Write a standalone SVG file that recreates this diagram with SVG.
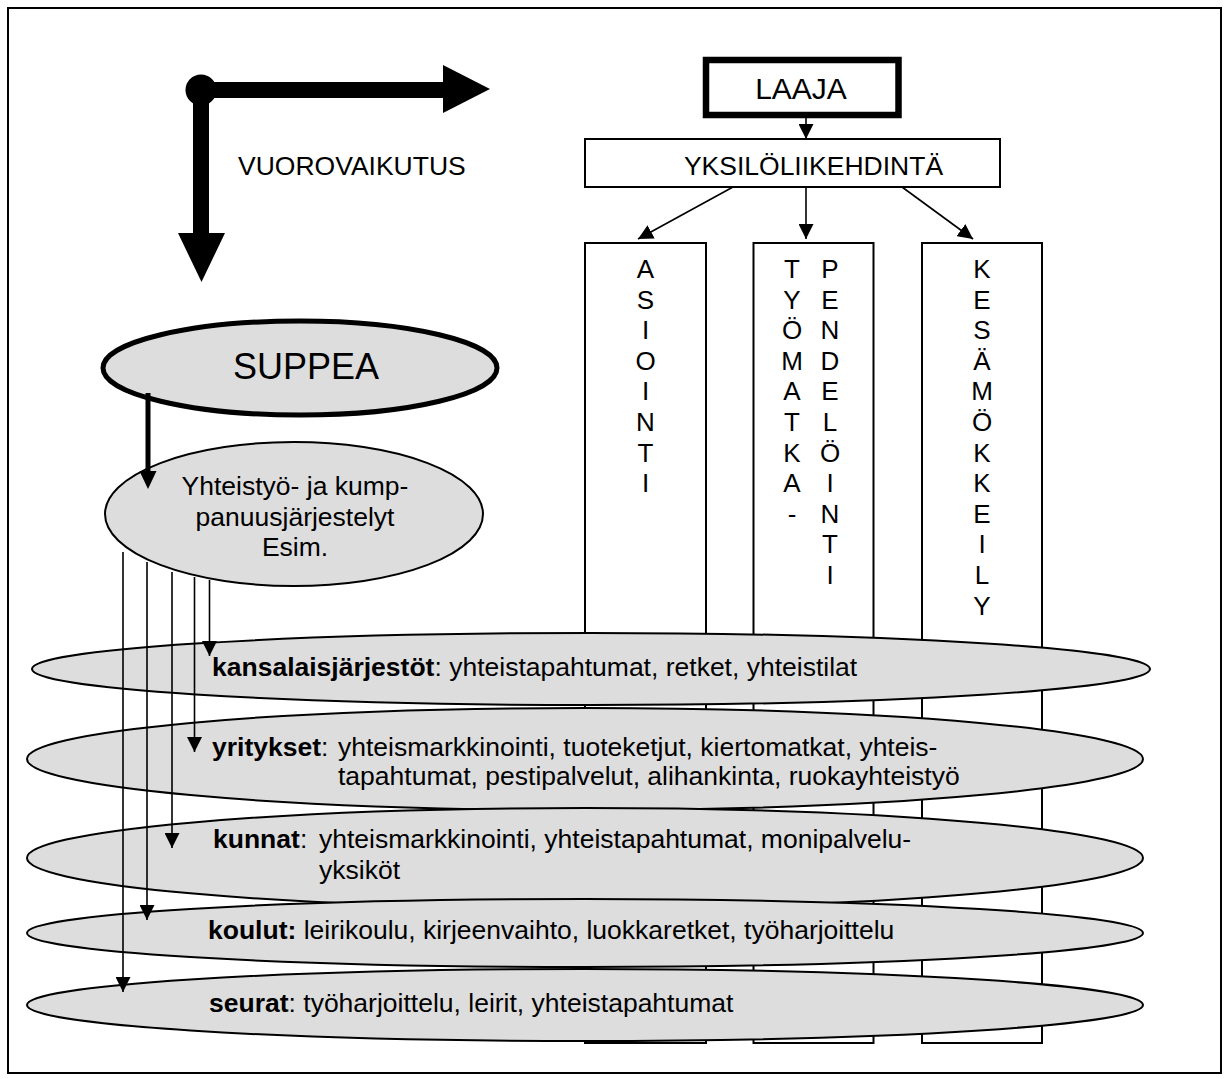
<svg xmlns="http://www.w3.org/2000/svg" width="1227" height="1079" viewBox="0 0 1227 1079">
<style>
text{font-family:"Liberation Sans",Arial,sans-serif;fill:#000}
.t26{font-size:26.5px}
.col{font-size:26px;text-anchor:middle}
.b{font-weight:bold}
.box{fill:#fff;stroke:#000;stroke-width:2}
.ell{fill:#dddddd;stroke:#000;stroke-width:2}
.thin{stroke:#000;stroke-width:1.6;fill:none}
</style>
<defs>
<marker id="ah" markerWidth="15" markerHeight="15" refX="15" refY="7.5" orient="auto" markerUnits="userSpaceOnUse">
<path d="M0,0 L15,7.5 L0,15 z" fill="#000"/>
</marker>
</defs>
<rect x="0" y="0" width="1227" height="1079" fill="#fff"/>
<rect id="frame" x="8" y="8" width="1213" height="1065" fill="none" stroke="#000" stroke-width="2"/>

<g id="vuorovaikutus">
<path d="M201,90 H445" stroke="#000" stroke-width="16" fill="none"/>
<polygon points="443,65 490,89 443,113" fill="#000"/>
<path d="M201,90 V235" stroke="#000" stroke-width="16" fill="none"/>
<polygon points="178,233 225,233 201.5,282" fill="#000"/>
<circle cx="201" cy="90" r="15.5" fill="#000"/>
<text class="t26" x="238" y="175">VUOROVAIKUTUS</text>
</g>

<g id="asiointi">
<rect class="box" x="585" y="243" width="121" height="800"/>
<text class="col" x="645.5" y="278">A</text>
<text class="col" x="645.5" y="308.6">S</text>
<text class="col" x="645.5" y="339.2">I</text>
<text class="col" x="645.5" y="369.8">O</text>
<text class="col" x="645.5" y="400.4">I</text>
<text class="col" x="645.5" y="431">N</text>
<text class="col" x="645.5" y="461.6">T</text>
<text class="col" x="645.5" y="492.2">I</text>
</g>

<g id="tyomatka">
<rect class="box" x="753.5" y="243" width="120" height="800"/>
<text class="col" x="792" y="278">T</text>
<text class="col" x="792" y="308.6">Y</text>
<text class="col" x="792" y="339.2">Ö</text>
<text class="col" x="792" y="369.8">M</text>
<text class="col" x="792" y="400.4">A</text>
<text class="col" x="792" y="431">T</text>
<text class="col" x="792" y="461.6">K</text>
<text class="col" x="792" y="492.2">A</text>
<text class="col" x="792" y="522.8">-</text>
<text class="col" x="830" y="278">P</text>
<text class="col" x="830" y="308.6">E</text>
<text class="col" x="830" y="339.2">N</text>
<text class="col" x="830" y="369.8">D</text>
<text class="col" x="830" y="400.4">E</text>
<text class="col" x="830" y="431">L</text>
<text class="col" x="830" y="461.6">Ö</text>
<text class="col" x="830" y="492.2">I</text>
<text class="col" x="830" y="522.8">N</text>
<text class="col" x="830" y="553.4">T</text>
<text class="col" x="830" y="584">I</text>
</g>

<g id="kesamokkeily">
<rect class="box" x="922" y="243" width="120" height="800"/>
<text class="col" x="982" y="278">K</text>
<text class="col" x="982" y="308.6">E</text>
<text class="col" x="982" y="339.2">S</text>
<text class="col" x="982" y="369.8">Ä</text>
<text class="col" x="982" y="400.4">M</text>
<text class="col" x="982" y="431">Ö</text>
<text class="col" x="982" y="461.6">K</text>
<text class="col" x="982" y="492.2">K</text>
<text class="col" x="982" y="522.8">E</text>
<text class="col" x="982" y="553.4">I</text>
<text class="col" x="982" y="584">L</text>
<text class="col" x="982" y="614.6">Y</text>
</g>

<g id="laaja">
<rect x="706" y="60" width="192.5" height="55" fill="#fff" stroke="#000" stroke-width="6.5"/>
<text x="801" y="99" style="font-size:30px;text-anchor:middle">LAAJA</text>
</g>

<g id="yksiloliikehdinta">
<rect class="box" x="585" y="139" width="415" height="48"/>
<text class="t26" x="813.5" y="175" text-anchor="middle">YKSILÖLIIKEHDINTÄ</text>
</g>

<g id="suppea">
<ellipse cx="300" cy="368" rx="197" ry="47" fill="#dddddd" stroke="#000" stroke-width="5"/>
<text x="306" y="379" style="font-size:36px;text-anchor:middle">SUPPEA</text>
</g>

<g id="yhteistyo">
<ellipse class="ell" cx="294" cy="514" rx="189" ry="72"/>
<text class="t26" x="295" y="495" text-anchor="middle">Yhteistyö- ja kump-</text>
<text class="t26" x="295" y="526" text-anchor="middle">panuusjärjestelyt</text>
<text class="t26" x="295" y="556" text-anchor="middle">Esim.</text>
</g>

<g id="kansalaisjarjestot">
<ellipse class="ell" cx="591" cy="669" rx="559" ry="36"/>
<text class="t26" x="212" y="676"><tspan class="b">kansalaisjärjestöt</tspan>: yhteistapahtumat, retket, yhteistilat</text>
</g>

<g id="yritykset">
<ellipse class="ell" cx="585" cy="759" rx="558" ry="51"/>
<text class="t26" x="212" y="756"><tspan class="b">yritykset</tspan>:<tspan x="338">yhteismarkkinointi, tuoteketjut, kiertomatkat, yhteis-</tspan></text>
<text class="t26" x="338" y="785">tapahtumat, pestipalvelut, alihankinta, ruokayhteistyö</text>
</g>

<g id="kunnat">
<ellipse class="ell" cx="585" cy="858" rx="558" ry="50"/>
<text class="t26" x="213" y="848"><tspan class="b">kunnat</tspan>:<tspan x="319">yhteismarkkinointi, yhteistapahtumat, monipalvelu-</tspan></text>
<text class="t26" x="319" y="879">yksiköt</text>
</g>

<g id="koulut">
<ellipse class="ell" cx="585" cy="933" rx="558" ry="34"/>
<text class="t26" x="208" y="939"><tspan class="b">koulut:</tspan> leirikoulu, kirjeenvaihto, luokkaretket, työharjoittelu</text>
</g>

<g id="seurat">
<ellipse class="ell" cx="585" cy="1005" rx="558" ry="36"/>
<text class="t26" x="209" y="1012"><tspan class="b">seurat</tspan>: työharjoittelu, leirit, yhteistapahtumat</text>
</g>

<g id="connectors">
<line class="thin" x1="806" y1="118" x2="806" y2="139" marker-end="url(#ah)"/>
<line class="thin" x1="733" y1="187" x2="638" y2="239" marker-end="url(#ah)"/>
<line class="thin" x1="806" y1="187" x2="806" y2="239" marker-end="url(#ah)"/>
<line class="thin" x1="902" y1="187" x2="973" y2="239" marker-end="url(#ah)"/>
<line x1="148" y1="393" x2="148" y2="473" stroke="#000" stroke-width="5"/>
<polygon points="139.5,471 156.5,471 148,489" fill="#000"/>
<line class="thin" x1="209.5" y1="580" x2="209.5" y2="656" marker-end="url(#ah)"/>
<line class="thin" x1="194.5" y1="577" x2="194.5" y2="752" marker-end="url(#ah)"/>
<line class="thin" x1="172" y1="572" x2="172" y2="848" marker-end="url(#ah)"/>
<line class="thin" x1="147" y1="562" x2="147" y2="920" marker-end="url(#ah)"/>
<line class="thin" x1="123" y1="552" x2="123" y2="992" marker-end="url(#ah)"/>
</g>
</svg>
